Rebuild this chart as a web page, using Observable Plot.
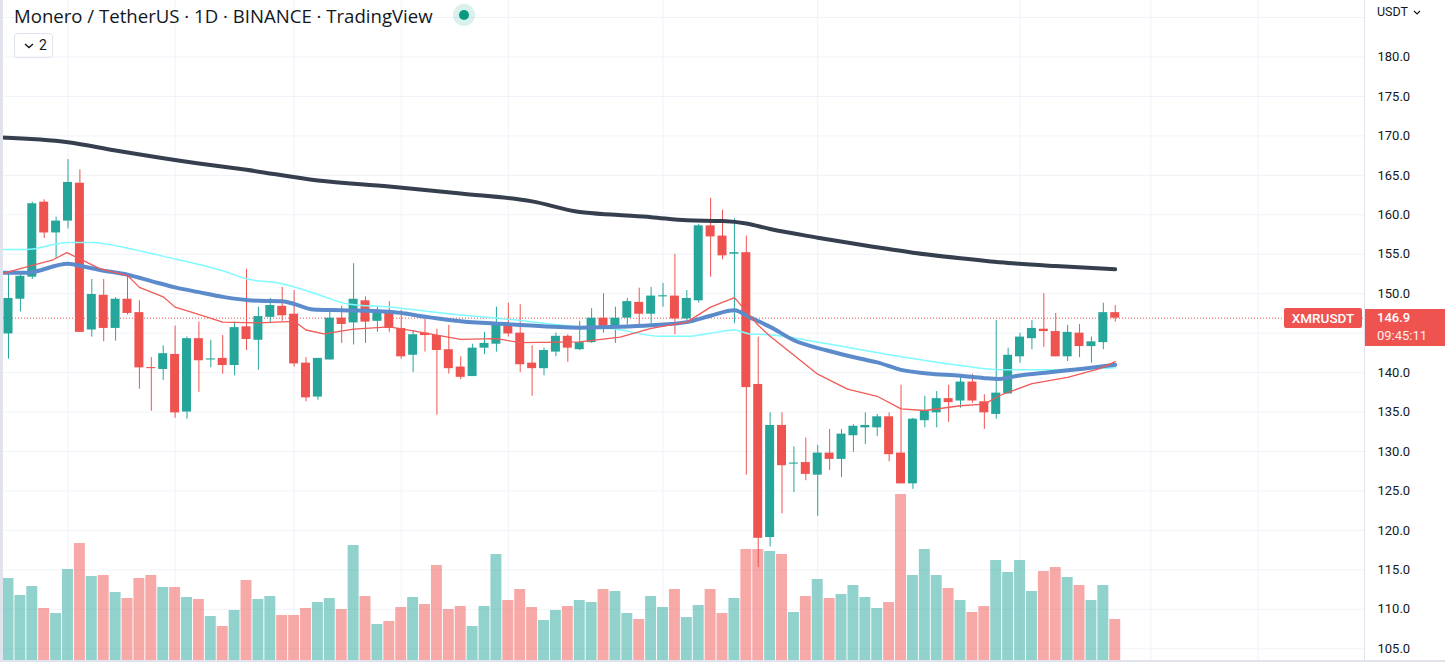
<!DOCTYPE html>
<html><head><meta charset="utf-8">
<script src="https://cdn.jsdelivr.net/npm/d3@7"></script>
<script src="https://cdn.jsdelivr.net/npm/@observablehq/plot@0.6"></script>
<style>
body{margin:0;background:#fff;font-family:Roboto,"Noto Sans",sans-serif;}
#wrap{position:relative;width:1445px;height:662px;overflow:hidden;background:#fff}
#wrap svg{position:absolute;left:0;top:0}
.abs{position:absolute}
</style></head><body><div id="wrap"></div>
<script>
// ---- data ----
const title = "Monero / TetherUS · 1D · BINANCE · TradingView";
const symbol = "XMRUSDT";
const currency = "USDT";
const lastPrice = 146.9;
const countdown = "09:45:11";
const legendCount = "2";

const opens  = [144.9,149.3,152.1,161.6,157.7,159.2,164.0,145.4,149.8,145.6,149.3,147.6,140.6,140.4,142.3,135.0,144.3,141.6,141.8,140.9,145.8,144.1,147.0,148.4,147.4,141.2,136.9,141.6,146.9,146.3,149.1,146.5,147.6,145.6,142.2,145.0,144.7,142.9,140.7,139.5,143.1,143.6,146.1,145.0,141.2,140.5,142.6,144.6,142.9,143.8,146.9,145.7,146.9,148.9,147.4,149.6,149.7,146.8,149.1,158.6,157.3,155.0,155.2,138.5,119.1,133.3,128.4,128.6,127.0,129.8,129.0,132.0,133.0,133.0,134.4,129.8,125.9,133.9,134.9,136.7,136.4,138.8,136.3,134.7,137.3,142.0,144.3,145.5,145.2,142.0,145.0,143.3,143.8,147.6];
const highs  = [152.5,152.4,161.6,161.9,159.7,167.0,165.7,151.8,151.8,149.5,152.2,149.1,141.9,143.4,145.9,144.5,146.4,144.1,144.7,146.4,153.1,148.3,149.4,150.8,150.4,141.9,141.8,147.7,148.4,153.8,149.6,148.3,149.0,147.9,145.3,146.9,145.5,146.0,142.0,143.6,145.1,148.3,148.8,148.6,143.4,143.1,145.0,144.8,146.5,148.1,150.0,148.3,149.4,150.7,150.8,151.3,155.0,150.4,158.8,162.1,160.6,159.5,157.3,144.5,134.9,134.9,130.6,131.7,130.8,132.8,132.8,133.4,134.9,134.7,134.9,138.4,134.2,137.0,137.6,138.4,139.5,139.8,137.2,146.6,143.1,145.0,146.6,150.0,147.5,146.0,146.1,144.5,148.8,148.5];
const lows   = [141.7,147.7,151.8,157.0,154.5,158.2,145.1,144.5,143.9,144.0,147.3,137.9,135.1,139.0,134.2,134.1,137.5,140.6,139.8,139.6,142.8,140.3,146.2,146.5,140.7,136.3,136.5,141.6,143.7,143.5,143.7,145.1,145.1,141.7,140.0,142.6,134.6,139.8,139.1,139.5,142.3,142.6,144.5,140.0,137.0,139.6,142.0,141.3,142.8,143.7,145.0,143.7,146.0,146.0,146.2,148.3,144.8,146.6,148.8,152.1,154.3,146.2,127.0,115.3,117.9,122.1,124.8,126.3,121.8,127.6,126.7,129.9,130.9,131.9,128.7,125.9,125.2,133.0,133.0,133.7,135.5,136.1,132.8,134.1,137.3,141.2,142.9,143.2,142.0,141.4,141.9,141.2,142.9,146.4];
const closes = [149.4,152.2,161.4,157.7,159.2,164.1,145.1,149.9,145.6,149.3,147.5,140.6,140.5,142.4,134.9,144.3,141.5,141.7,140.9,145.7,144.2,147.1,148.5,147.2,141.1,136.8,141.8,146.9,146.1,149.3,146.4,147.7,145.6,142.0,144.8,144.7,142.8,140.5,139.4,143.1,143.7,146.1,144.9,141.0,140.5,142.8,144.6,143.1,143.8,146.9,145.7,146.9,149.0,147.4,149.7,149.7,146.8,149.4,158.6,157.2,154.8,155.2,138.1,119.0,133.3,128.2,128.5,127.1,129.8,129.0,132.2,133.2,133.3,134.4,129.6,125.9,134.1,135.1,136.7,136.2,138.8,136.4,134.9,137.4,142.2,144.5,145.6,145.2,142.0,145.1,143.3,143.9,147.6,146.9];
const volumes = [82,65,74,52,47,91,117,84,85,68,62,82,85,73,73,63,61,44,34,50,80,61,64,45,45,52,58,62,51,115,64,36,39,53,63,56,95,51,54,34,54,106,60,71,53,40,50,54,60,58,71,69,47,41,64,53,71,43,55,71,47,62,111,111,109,106,48,64,81,62,66,75,63,52,58,166,85,111,85,72,60,48,54,100,88,100,69,89,93,83,75,60,75,41];

// moving averages (candle index, value) read at sample points
const ma200Idx = [-0.6,5,9,16,20,26,32,38,44,48,51,54,57,60,62,64,68,72,76,80,84,88,93];
const ma200Val = [169.8,169.2,168.15,166.5,165.7,164.35,163.6,162.7,161.7,160.35,160.0,159.7,159.3,159.2,158.9,158.2,157.1,156.1,155.2,154.5,153.9,153.5,153.1];
const ma50Idx = [-0.6,1.5,5,6.3,7.7,10,12,14,16,18,21,23,24,25.6,28,32,35.4,38,42.4,48,51.4,54,57,59,61,62.3,64,66,68.8,71.6,73,75,77.2,80,82,83.3,84.8,87.5,90.3,93];
const ma50Val = [152.65,152.65,153.8,153.45,153.0,152.4,151.6,150.8,150.2,149.6,149.1,149.05,148.7,148.0,147.9,147.7,147.0,146.5,146.1,145.7,145.8,146.0,146.4,147.2,147.9,147.0,145.8,144.1,142.8,141.75,141.3,140.35,139.9,139.6,139.3,139.2,139.6,140.05,140.5,141.0];
const ma100Idx = [-0.6,1.5,5,7,10.5,14,16,18,20,23,26,28.5,32,37,42.4,48,50.8,54.8,57,59,61,62.3,64,68.8,74.3,80,83.3,87.5,93];
const ma100Val = [155.6,155.6,156.5,156.5,155.6,154.4,153.7,152.9,151.9,151.25,149.9,148.7,148.3,147.45,146.7,145.8,145.55,144.6,144.6,145.0,145.4,144.9,144.8,143.65,142.2,140.9,140.35,140.35,140.6];
const ma20Idx = [-0.6,2,3.75,4.9,6.3,7.7,10,11,13,14,15.3,18,21,24,25,26.5,29,32,34,38,41,43,48,51.4,54,57,59,61,63,64,65.5,68,70.5,73,75,77,80,82,83.3,86,89,91.7,93];
const ma20Val = [152.5,153.6,154.3,155.2,154.2,153.15,152.3,150.8,149.6,148.3,147.7,146.4,146.3,146.5,145.4,144.9,145.5,145.8,145.3,144.2,144.3,143.8,143.9,144.5,145.6,146.4,148.3,149.5,146.0,144.6,142.8,139.8,137.9,137.0,135.4,135.2,135.8,136.0,137.1,138.6,139.4,140.5,141.4];

// visible price labels (145.0 is hidden under the last-price label in the reference)
const priceTicks = [105,110,115,120,125,130,135,140,150,155,160,165,170,175,180];
const gridTicks = [105,110,115,120,125,130,135,140,145,150,155,160,165,170,175,180,185];
const timeGridIdx = [5,14,24,33,42,55,68,85,96,105];

// ---- style / layout ----
const W = 1445, H = 662, MR = 80;
const UP = "#26a69a", DOWN = "#ef5350";
const xDomain = [-0.672, 114.03];
const yDomain = [103.26, 187.16];

const idx = d3.range(opens.length);
const isUp = i => closes[i] >= opens[i];
const common = {width: W, height: H, marginLeft: 0, marginRight: MR, marginTop: 0, marginBottom: 0,
  x: {type: "linear", domain: xDomain, axis: null}};

const wrap = document.getElementById("wrap");

// layer 1: grid + price axis
const base = Plot.plot({...common,
  y: {domain: yDomain, axis: null},
  style: {background: "#fff", fontFamily: "Roboto, sans-serif", fontSize: "13px", color: "#131722"},
  marks: [
    Plot.ruleY(gridTicks, {stroke: "#f0f3fa", strokeWidth: 1}),
    Plot.ruleX(timeGridIdx, {stroke: "#f0f3fa", strokeWidth: 1}),
    Plot.axisY(priceTicks, {anchor: "right", tickSize: 0, tickPadding: 12, label: null,
      tickFormat: d => d.toFixed(1), fill: "#131722", textAnchor: "start"})
  ]
});
wrap.appendChild(base);

// layer 2: volume
const vol = Plot.plot({...common, marginBottom: 2,
  y: {domain: [0, 660], axis: null},
  style: {background: "transparent"},
  marks: [
    Plot.rect(idx.filter(isUp), {x1: i => i - 0.46, x2: i => i + 0.46, y1: 0, y2: i => volumes[i], fill: UP, fillOpacity: 0.5}),
    Plot.rect(idx.filter(i => !isUp(i)), {x1: i => i - 0.46, x2: i => i + 0.46, y1: 0, y2: i => volumes[i], fill: DOWN, fillOpacity: 0.5})
  ]
});
wrap.appendChild(vol);

// layer 3: candles, averages, last price line
const bodyLo = i => Math.min(opens[i], closes[i]);
const bodyHi = i => Math.max(opens[i], closes[i], bodyLo(i) + 0.14);
const price = Plot.plot({...common,
  y: {domain: yDomain, axis: null},
  style: {background: "transparent"},
  marks: [
    Plot.ruleY([lastPrice], {stroke: DOWN, strokeWidth: 1, strokeDasharray: "1,2"}),
    Plot.ruleX(idx.filter(isUp), {x: i => i, y1: i => lows[i], y2: i => highs[i], stroke: UP, strokeWidth: 1}),
    Plot.ruleX(idx.filter(i => !isUp(i)), {x: i => i, y1: i => lows[i], y2: i => highs[i], stroke: DOWN, strokeWidth: 1}),
    Plot.rect(idx.filter(isUp), {x1: i => i - 0.378, x2: i => i + 0.378, y1: bodyLo, y2: bodyHi, fill: UP}),
    Plot.rect(idx.filter(i => !isUp(i)), {x1: i => i - 0.378, x2: i => i + 0.378, y1: bodyLo, y2: bodyHi, fill: DOWN}),
    Plot.line(ma100Idx, {x: d => d, y: (d, k) => ma100Val[k], stroke: "#7ffbff", strokeWidth: 1.5, curve: "monotone-x"}),
    Plot.line(ma50Idx, {x: d => d, y: (d, k) => ma50Val[k], stroke: "#5b8bca", strokeWidth: 4, curve: "monotone-x"}),
    Plot.line(ma20Idx, {x: d => d, y: (d, k) => ma20Val[k], stroke: "#f05a57", strokeWidth: 1.3}),
    Plot.line(ma200Idx, {x: d => d, y: (d, k) => ma200Val[k], stroke: "#363f4e", strokeWidth: 4, curve: "monotone-x"})
  ]
});
wrap.appendChild(price);

const py = price.scale("y").apply(lastPrice);

function addDiv(css, html) {
  const d = document.createElement("div");
  d.className = "abs";
  d.style.cssText = css;
  d.innerHTML = html;
  wrap.appendChild(d);
  return d;
}
// chrome: left strip, axis border, bottom border
addDiv("left:0;top:0;width:3px;height:662px;background:#e0e3eb", "");
addDiv(`left:${W - MR - 1}px;top:0;width:1px;height:662px;background:#e0e3eb`, "");
addDiv(`left:0;top:660px;width:${W}px;height:2px;background:#e0e3eb`, "");

// title
addDiv("left:14px;top:4px;font-family:'Open Sans',sans-serif;font-size:18.6px;line-height:24px;color:#131722;white-space:nowrap", title);
addDiv("left:453px;top:4px;width:22px;height:22px;border-radius:11px;background:rgba(8,153,129,0.15)", "");
addDiv("left:459px;top:10px;width:10px;height:10px;border-radius:5px;background:#089981", "");
// legend toggle box
addDiv("left:14px;top:33px;width:39px;height:25px;border:1px solid #e0e3eb;border-radius:4px;box-sizing:border-box;font-size:14px;color:#131722",
  `<svg width="12" height="8" style="position:absolute;left:8px;top:8px"><path d="M2 2 L6 5.5 L10 2" fill="none" stroke="#131722" stroke-width="1.4"/></svg><span style="position:absolute;left:24px;top:2px;line-height:18px">${legendCount}</span>`);
// currency
addDiv(`left:${W - MR + 12}px;top:4px;width:60px;height:18px;font-size:12.5px;line-height:16px;color:#131722;white-space:nowrap`,
  `<span style="position:absolute;left:0;top:0">${currency}</span><svg width="10" height="8" style="position:absolute;left:35px;top:5px"><path d="M2 2 L5 5 L8 2" fill="none" stroke="#131722" stroke-width="1.2"/></svg>`);
// symbol label
addDiv(`left:${W - MR - 81}px;top:${py - 10}px;width:78px;height:20px;background:${DOWN};border-radius:2px;color:#fff;font-size:13.5px;font-weight:500;text-align:center;line-height:20px`, symbol);
// last price label
addDiv(`left:${W - MR}px;top:${py - 9}px;width:${MR}px;height:37px;background:${DOWN};color:#fff;font-size:13px;line-height:16px`,
  `<div style="position:absolute;left:12px;top:1px;font-weight:500">${lastPrice.toFixed(1)}</div><div style="position:absolute;left:12px;top:19px;opacity:0.9">${countdown}</div>`);
</script>
</body></html>
